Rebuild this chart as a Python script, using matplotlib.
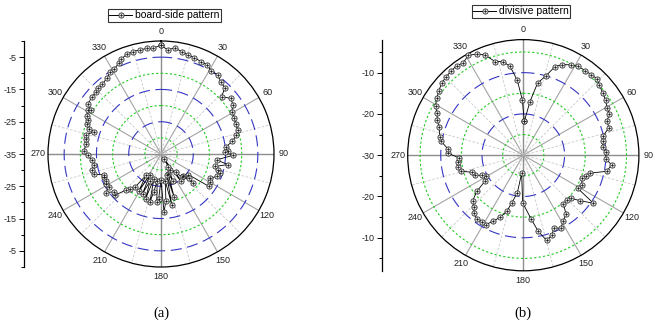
import numpy as np
import matplotlib
matplotlib.use('Agg')
import matplotlib.pyplot as plt
from matplotlib.lines import Line2D

plt.rcParams['font.family'] = ['Liberation Sans', 'DejaVu Sans']

# ---------------- data (angle in degrees, level in dB) ----------------
board_angles = [0, 3.7, 7.5, 11.4, 15.4, 19, 23.4, 27.5, 31, 36, 39.5, 44, 46.6, 51.5, 56, 59,
                64, 68, 72.6, 76, 79.7, 83.6, 87.4, 88, 91, 96, 99, 103, 106, 108, 112, 116,
                120, 124, 127, 130, 132, 135, 138, 141, 144, 147, 150, 153, 156, 160, 163, 165,
                168, 171, 174, 177, 180, 183, 185, 188, 191, 193, 196, 199, 202, 205, 208, 211,
                215, 218, 221, 224, 228, 231, 235, 238, 241, 244, 248, 250, 253, 257, 261, 265,
                269, 272, 277.4, 281, 284, 288.4, 289, 292, 295, 297, 300.8, 302, 304.5, 309.6,
                313.6, 316.3, 320, 324.3, 328.4, 331, 335, 337, 341, 344.7, 348.6, 352.3, 355.5]
board_db = [-1.3, -2.7, -1.8, -2.7, -3.2, -3.4, -3.8, -3.9, -4.9, -4.8, -6.0, -6.5, -9.2, -7.3, -8.1, -9.5,
            -9.7, -10.1, -10.1, -10.9, -12.5, -14.6, -14.1, -15.2, -12.6, -17.7, -14.1, -17.8, -16.5, -15.7, -16.4, -18.0,
            -17.6, -17.0, -24.4, -23.5, -21.5, -25.2, -25.4, -27.8, -24.7, -33.3, -29.2, -30.5, -26.0, -28.5, -21.0, -28.2,
            -18.8, -26.5, -20.5, -17.0, -27.0, -21.0, -20.0, -26.5, -22.9, -19.7, -27.0, -20.3, -26.0, -21.5, -27.8, -21.5,
            -27.0, -22.0, -20.6, -19.6, -16.0, -16.4, -14.2, -15.9, -15.6, -16.0, -15.8, -16.2, -13.3, -13.0, -14.1, -13.4,
            -12.3, -11.0, -11.7, -11.4, -11.0, -13.1, -11.3, -10.3, -10.1, -9.2, -8.5, -9.5, -7.7, -7.1,
            -7.3, -6.9, -6.7, -6.2, -5.1, -5.0, -4.0, -3.1, -2.4, -2.1, -2.1, -2.0, -2.2]

div_angles = [1.7, 7.1, 11.2, 15.9, 19.7, 23.3, 27.6, 31.8, 36.2, 40.0, 43.9, 47.5, 51.7, 56.1, 60.6, 64.3,
              67.6, 72.2, 76.6, 80.0, 84.0, 87.9, 92.5, 96.2, 100.9, 105.1, 108.0, 111.0, 116.7, 121.3, 124.4, 128.7,
              132.3, 135.9, 140.6, 144.0, 148.9, 152.9, 156.9, 160.6, 164.7, 168.9, 173.1, 180.8, 185.3, 189.0, 193.7, 196.5,
              200.6, 204.4, 208.3, 212.1, 216.2, 220.5, 223.5, 227.8, 232.1, 235.9, 241.0, 244.0, 247.9, 251.8, 255.6, 260.1,
              263.9, 267.6, 271.5, 274.4, 279.6, 282.6, 288.4, 292.3, 296.0, 299.4, 303.3, 307.3, 311.4, 315.2, 319.4, 323.3,
              327.0, 331.1, 335.3, 339.1, 343.2, 347.6, 351.5, 355.4, 359.0]
div_db = [-21.8, -16.9, -12.2, -10.0, -7.2, -6.1, -5.3, -4.7, -4.6, -4.5, -4.3, -5.0, -5.5, -6.0, -6.7, -6.9,
          -8.0, -8.3, -10.1, -10.5, -10.6, -10.0, -10.0, -8.5, -9.4, -13.3, -14.0, -14.7, -14.2, -14.6, -9.4, -12.4,
          -14.5, -14.9, -14.7, -12.4, -11.3, -10.1, -10.9, -9.4, -8.6, -11.2, -14.5, -18.5, -25.6, -20.8, -18.0, -15.8,
          -13.9, -12.5, -10.9, -11.0, -10.9, -11.6, -12.6, -13.4, -15.7, -18.8, -19.8, -18.8, -17.3, -16.8, -14.4, -14.0,
          -14.0, -14.4, -11.8, -11.8, -9.8, -9.3, -8.5, -7.5, -6.7, -5.6, -4.9, -4.3, -3.6, -3.4, -3.1, -3.0,
          -3.3, -2.4, -3.0, -4.0, -6.3, -6.8, -8.2, -11.8, -16.6]

angle_ticks = [0, 30, 60, 90, 120, 150, 180, 210, 240, 270, 300, 330]
legend_labels = ['board-side pattern', 'divisive pattern']
captions = ['(a)', '(b)']

board_rlim = (-35, 0)
board_blue = [-5, -15, -25]
board_green = [-10, -20, -30]
board_major = [-5, -15, -25, -35]
board_minor = [0, -10, -20, -30]

div_rlim = (-30, -2)
div_blue = [-10, -20]
div_green = [-5, -15, -25]
div_major = [-10, -20, -30]
div_minor = [-5, -15, -25]

# ---------------- figure ----------------
W, H = 658, 324
fig = plt.figure(figsize=(W / 100, H / 100), dpi=100)
fig.patch.set_facecolor('white')

MK = dict(marker='o', ms=3.8, mfc='#e2e2e2', mec='#1a1a1a', mew=0.5)
PL = dict(marker='+', ms=2.6, mec='#1a1a1a', mew=0.45)


def rect(cx, cy, r):
    return [(cx - r) / W, (H - cy - r) / H, 2 * r / W, 2 * r / H]


def panel(cx, cy, rpx, angles, db, rlim, blue, green, major, minor,
          label, leg_xy, yaxis_x, caption):
    ax = fig.add_axes(rect(cx, cy, rpx), projection='polar')
    ax.set_theta_zero_location('N')
    ax.set_theta_direction(-1)
    ax.set_rlim(*rlim)
    ax.grid(False)
    ax.set_yticks([])
    ax.set_xticks(np.deg2rad(angle_ticks))
    ax.set_xticklabels([str(a) for a in angle_ticks], fontsize=6.5, color='#222222')
    ax.tick_params(axis='x', pad=-3.5)
    ax.spines['polar'].set_color('black')
    ax.spines['polar'].set_linewidth(0.9)

    full = np.linspace(0, 2 * np.pi, 721)
    for r in blue:
        ax.plot(full, np.full_like(full, r), color='#3636c4', lw=0.8,
                ls=(0, (10, 5)), zorder=2)
    for r in green:
        ax.plot(full, np.full_like(full, r), color='#22cc22', lw=0.8,
                ls=(0, (2, 2)), zorder=2)
    for a in range(0, 360, 15):
        t = np.deg2rad(a)
        if a % 90 == 0:
            st = dict(color='#8e8e8e', lw=1.0, ls='-')
        elif a % 30 == 0:
            st = dict(color='#a4a4a4', lw=0.8, ls='-')
        else:
            st = dict(color='#c8c8c8', lw=0.6, ls=(0, (3, 2)))
        ax.plot([t, t], list(rlim), zorder=1, **st)

    th = np.deg2rad(np.append(angles, angles[0]))
    rr = np.append(db, db[0])
    ax.plot(th, rr, color='black', lw=0.6, zorder=4, clip_on=False, **MK)
    ax.plot(th, rr, ls='none', zorder=5, clip_on=False, **PL)

    # legend
    h1 = Line2D([], [], color='black', lw=0.7, **MK)
    h2 = Line2D([], [], ls='none', **PL)
    leg = fig.legend(handles=[(h1, h2)], labels=[label], loc='center',
                     bbox_to_anchor=(leg_xy[0] / W, 1 - leg_xy[1] / H),
                     frameon=True, fancybox=False, fontsize=7.5, handlelength=2.2,
                     handletextpad=0.3, borderpad=0.12, borderaxespad=0,
                     numpoints=1)
    leg.get_frame().set_edgecolor('black')
    leg.get_frame().set_linewidth(0.8)

    # straight dB axis along the vertical diameter
    pos = rect(cx, cy, rpx)
    yax = fig.add_axes([yaxis_x / W, pos[1], 0.001, pos[3]])
    span = rlim[1] - rlim[0]
    yax.set_ylim(-span, span)
    yax.set_xticks([])
    for s in ['top', 'right', 'bottom']:
        yax.spines[s].set_visible(False)
    yax.spines['left'].set_linewidth(0.9)
    yax.patch.set_alpha(0)
    mpos, mlab = [], []
    for v in major:
        off = v - rlim[0]
        for p in sorted({off, -off}):
            mpos.append(p)
            mlab.append(str(v))
    npos = []
    for v in minor:
        off = v - rlim[0]
        npos += sorted({off, -off})
    yax.set_yticks(mpos)
    yax.set_yticklabels(mlab, fontsize=6.5, color='#222222')
    yax.set_yticks(npos, minor=True)
    yax.tick_params(axis='y', which='major', length=3.5, width=0.7, pad=2)
    yax.tick_params(axis='y', which='minor', length=2, width=0.7)

    fig.text(cx / W, 1 - 313 / H, caption, family='Liberation Serif',
             fontsize=10.5, ha='center', va='center')


panel(161, 154, 113, board_angles, board_db, board_rlim, board_blue, board_green,
      board_major, board_minor, legend_labels[0], (164.5, 15.5), 24, captions[0])
panel(523.3, 155.2, 115.6, div_angles, div_db, div_rlim, div_blue, div_green,
      div_major, div_minor, legend_labels[1], (521.3, 11.5), 382, captions[1])

fig.savefig('out.png', dpi=100, facecolor='white')
